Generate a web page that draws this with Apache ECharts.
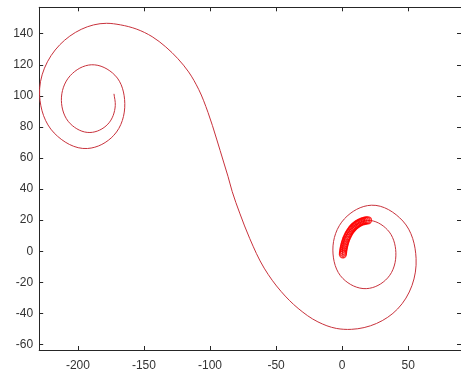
<!DOCTYPE html>
<html>
<head>
<meta charset="utf-8">
<script src="https://cdn.jsdelivr.net/npm/echarts@6/dist/echarts.min.js"></script>
<style>
  html, body { margin: 0; padding: 0; background: #ffffff; }
  #chart { width: 461px; height: 374px; }
</style>
</head>
<body>
<div id="chart"></div>
<script>
// Double spiral path, traced from the inner end of the upper-left coil
// through the S-bend to the inner end of the lower-right coil.
const pathX = [
  -172.7, -171.7, -177.3, -190.9, -205.8, -212.5, -205.8, -189.8,
  -172.0, -164.5, -172.8, -192.8, -218.0, -229.0, -213.7, -178.3,
  -167.8, -155.4, -143.8, -133.5, -124.3, -116.2, -108.6, -101.5,
  -95.0, -89.7, -86.4, -83.2, -77.5, -69.9, -59.0, -46.1,
  -33.3, -18.3, -4.4, 7.0, 42.0, 56.0, 46.0, 22.2,
  1.7, -7.0, 0.6, 18.3, 34.5, 40.7, 34.3, 19.4,
  6.0, 0.3, 0.8
];
const pathY = [
  101.3, 93.8, 81.8, 76.4, 82.1, 97.0, 113.0, 120.0,
  113.3, 95.1, 74.6, 66.1, 76.1, 100.2, 132.9, 146.7,
  145.7, 142.9, 138.1, 131.5, 123.9, 115.4, 104.2, 89.3,
  72.2, 57.4, 48.2, 38.4, 24.5, 8.1, -10.9, -26.0,
  -36.8, -45.5, -49.7, -50.3, -37.2, -4.6, 19.4, 29.6,
  20.8, 0.7, -17.6, -24.1, -17.2, -0.8, 13.8, 19.8,
  13.5, 2.2, -4.5
];

// Circle markers along the innermost arc of the lower-right coil
const markX = [
  19.6, 18.4, 17.2, 16.0, 14.8, 13.7, 12.6, 11.5, 10.5,
  9.5, 8.6, 7.7, 6.9, 6.1, 5.4, 4.7, 4.1, 3.5,
  3.0, 2.5, 2.1, 1.7, 1.4, 1.1, 0.9, 0.7, 0.6
];
const markY = [
  19.9, 19.8, 19.6, 19.3, 19.0, 18.6, 18.1, 17.5, 16.9,
  16.2, 15.4, 14.6, 13.7, 12.8, 11.8, 10.8, 9.7, 8.6,
  7.5, 6.3, 5.1, 3.9, 2.7, 1.5, 0.3, -0.9, -2.0
];

const xTicks = [-200, -150, -100, -50, 0, 50];
const yTicks = [-60, -40, -20, 0, 20, 40, 60, 80, 100, 120, 140];

const axisColor = '#262626';
const labelStyle = {
  color: '#333333',
  fontFamily: 'Liberation Sans, Arial, sans-serif',
  fontSize: 12
};

function boxAxis(pos, min, max, ticks, showLabels, margin) {
  return {
    type: 'value',
    position: pos,
    min: min,
    max: max,
    axisLine: { show: true, onZero: false, lineStyle: { color: axisColor, width: 1 } },
    axisTick: { show: true, inside: true, length: 4, customValues: ticks,
                lineStyle: { color: axisColor, width: 1 } },
    axisLabel: Object.assign({ show: showLabels, customValues: ticks, margin: margin }, labelStyle),
    splitLine: { show: false }
  };
}

// Smooth curve through the projected path points: cubic Bezier segments
// whose tangents are the chord-length weighted average of the adjacent
// segment directions.
function renderPath(params, api) {
  const pts = pathX.map((x, i) => api.coord([x, pathY[i]]));
  const n = pts.length;
  const sub = (a, b) => [a[0] - b[0], a[1] - b[1]];
  const len = (v) => Math.hypot(v[0], v[1]) || 1;
  const unit = (v) => { const l = len(v); return [v[0] / l, v[1] / l]; };

  const tangents = pts.map((p, i) => {
    if (i === 0) return unit(sub(pts[1], p));
    if (i === n - 1) return unit(sub(p, pts[n - 2]));
    const v0 = sub(p, pts[i - 1]);
    const v1 = sub(pts[i + 1], p);
    const d0 = len(v0), d1 = len(v1);
    const w0 = d1 / (d0 + d1), w1 = d0 / (d0 + d1);
    return unit([v0[0] / d0 * w0 + v1[0] / d1 * w1, v0[1] / d0 * w0 + v1[1] / d1 * w1]);
  });

  let d = 'M' + pts[0][0].toFixed(2) + ' ' + pts[0][1].toFixed(2);
  for (let i = 0; i < n - 1; i++) {
    const p1 = pts[i], p2 = pts[i + 1];
    const h = len(sub(p2, p1)) * 0.34;
    const c1 = [p1[0] + tangents[i][0] * h, p1[1] + tangents[i][1] * h];
    const c2 = [p2[0] - tangents[i + 1][0] * h, p2[1] - tangents[i + 1][1] * h];
    d += ' C' + c1[0].toFixed(2) + ' ' + c1[1].toFixed(2) + ' ' +
         c2[0].toFixed(2) + ' ' + c2[1].toFixed(2) + ' ' +
         p2[0].toFixed(2) + ' ' + p2[1].toFixed(2);
  }
  return {
    type: 'path',
    shape: { pathData: d },
    style: { stroke: '#c8323c', fill: 'none', lineWidth: 1 }
  };
}

const chart = echarts.init(document.getElementById('chart'), null, { renderer: 'canvas' });
chart.setOption({
  animation: false,
  backgroundColor: '#ffffff',
  grid: { left: 39.2, top: 7.3, width: 422.3, height: 342.7, containLabel: false },
  xAxis: [
    boxAxis('bottom', -229.3, 90, xTicks, true, 9.5),
    boxAxis('top', -229.3, 90, xTicks, false, 9.5)
  ],
  yAxis: [
    boxAxis('left', -63.6, 157, yTicks, true, 6),
    boxAxis('right', -63.6, 157, yTicks, false, 6)
  ],
  series: [
    {
      type: 'custom',
      xAxisIndex: 0,
      yAxisIndex: 0,
      coordinateSystem: 'cartesian2d',
      data: [[pathX[0], pathY[0]]],
      encode: { x: 0, y: 1 },
      clip: true,
      renderItem: renderPath
    },
    {
      type: 'scatter',
      xAxisIndex: 0,
      yAxisIndex: 0,
      data: markX.map((x, i) => [x, markY[i]]),
      symbol: 'circle',
      symbolSize: 7,
      itemStyle: { color: 'rgba(255,255,255,0)', borderColor: '#ff0000', borderWidth: 1.3 }
    }
  ]
});
</script>
</body>
</html>
